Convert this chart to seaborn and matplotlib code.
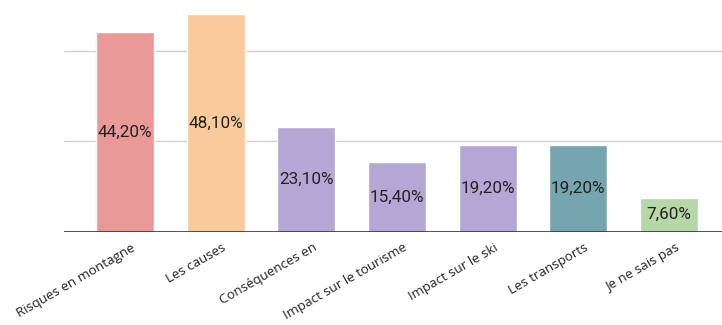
import matplotlib
matplotlib.use("Agg")
import matplotlib.pyplot as plt
import matplotlib.transforms as mtransforms
import seaborn as sns
import pandas as pd

categories = ["Risques en montagne", "Les causes", "Conséquences en",
              "Impact sur le tourisme", "Impact sur le ski", "Les transports",
              "Je ne sais pas"]
values = [44.2, 48.1, 23.1, 15.4, 19.2, 19.2, 7.6]
colors = ["#EA9999", "#F9CB9C", "#B4A7D6", "#B4A7D6", "#B4A7D6", "#76A5AF", "#B6D7A8"]
gridlines = [20, 40]

df = pd.DataFrame({"cat": categories, "val": values})

sns.set_theme(style="white")
plt.rcParams["font.family"] = ["Roboto", "DejaVu Sans"]

fig = plt.figure(figsize=(7.22, 3.25), dpi=100)
ax = fig.add_axes([64 / 722, 93 / 325, 1 - 64 / 722, 232 / 325])

sns.barplot(data=df, x="cat", y="val", hue="cat", palette=colors,
            width=0.64, legend=False, ax=ax, saturation=1)

for y in gridlines:
    ax.axhline(y, color="#d0d0d0", lw=1, zorder=0)
ax.axhline(0, color="#333333", lw=1.2, zorder=3)

for i, v in enumerate(values):
    ax.text(i, v / 2, f"{v:.2f}".replace(".", ",") + "%", ha="center", va="center",
            fontsize=12.3, color="#222222", family="Roboto")

ax.set_xlim(-0.673, 6.585)
ax.set_ylim(0, 51.2)
ax.set_xlabel("")
ax.set_ylabel("")
ax.set_yticks([])
ax.set_xticks(range(len(categories)))
ax.tick_params(axis="x", length=0, pad=0)
ax.set_xticklabels(categories, rotation=30, ha="right", va="top", rotation_mode="anchor",
                   fontsize=9.5, color="#222222", family="Open Sans", fontweight="medium")
offset = mtransforms.ScaledTranslation(6 / 100, -9 / 100, fig.dpi_scale_trans)
for lbl in ax.get_xticklabels():
    lbl.set_transform(lbl.get_transform() + offset)
for s in ax.spines.values():
    s.set_visible(False)

fig.savefig("out.png", dpi=100)
